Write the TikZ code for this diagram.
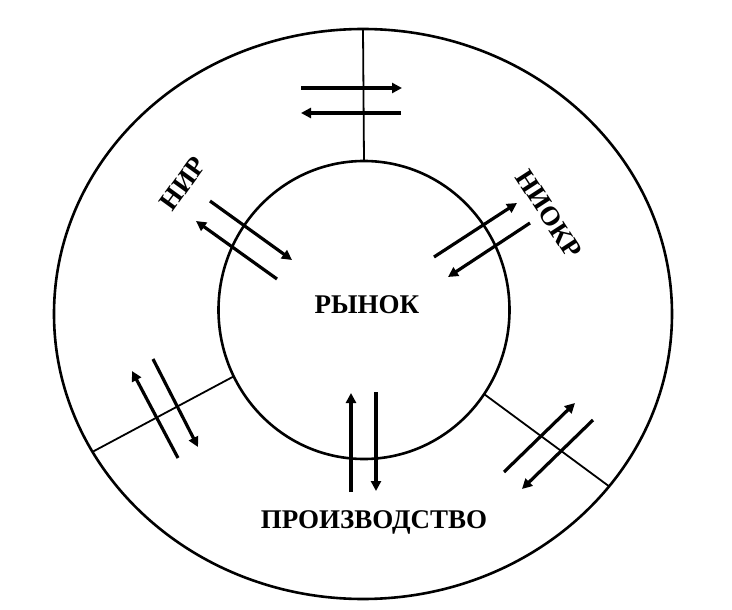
\documentclass[tikz,border=0pt]{standalone}
\usepackage{fontspec}
\setmainfont{Liberation Serif}
\usepackage{tikz}
\usetikzlibrary{arrows.meta,shapes.geometric}

\begin{document}
\begin{tikzpicture}[x=1pt,y=-1pt,
    ring/.style={draw, ellipse, line width=2.6pt, inner sep=0pt, outer sep=0pt},
    divider/.style={line width=1.8pt},
    flow/.style={line width=3.2pt, -{Triangle[length=10pt,width=10pt]}},
    lbl/.style={font=\fontsize{27}{30}\selectfont\bfseries, inner sep=0pt}]
  \useasboundingbox (0,0) rectangle (732,610);
  \node[ring, minimum width=618pt, minimum height=570pt] (outer) at (363,314) {};
  \node[ring, minimum width=291pt, minimum height=298pt] (market) at (364,310) {};
  \foreach \ang in {90,207,325}
    \draw[divider] (market.\ang) -- (outer.\ang);
  \foreach \n/\sx/\sy/\ex/\ey in {top1/301/88/402/88, top2/401/113/301/113,
      nir1/210/201/292/260, nir2/277/279/196/221,
      niokr1/434/257/517/203, niokr2/530/223/448/277,
      left1/178/458/132/371, left2/153/359/198/447,
      right1/504/472/575/403, right2/593/420/522/489,
      prod1/351/492/351/393, prod2/376/392/376/491} {
    \coordinate (\n-s) at (\sx,\sy);
    \coordinate (\n-e) at (\ex,\ey);
    \draw[flow] (\n-s) -- (\n-e);
  }
  \node[lbl] (rynok) at (367,305) {РЫНОК};
  \node[lbl] (prod) at (374,522) {ПРОИЗВОДСТВО};
  \node[lbl, rotate=54] (nir) at (183,184) {НИР};
  \node[lbl, rotate=-57] (niokr) at (549,214) {НИОКР};
\end{tikzpicture}
\end{document}
